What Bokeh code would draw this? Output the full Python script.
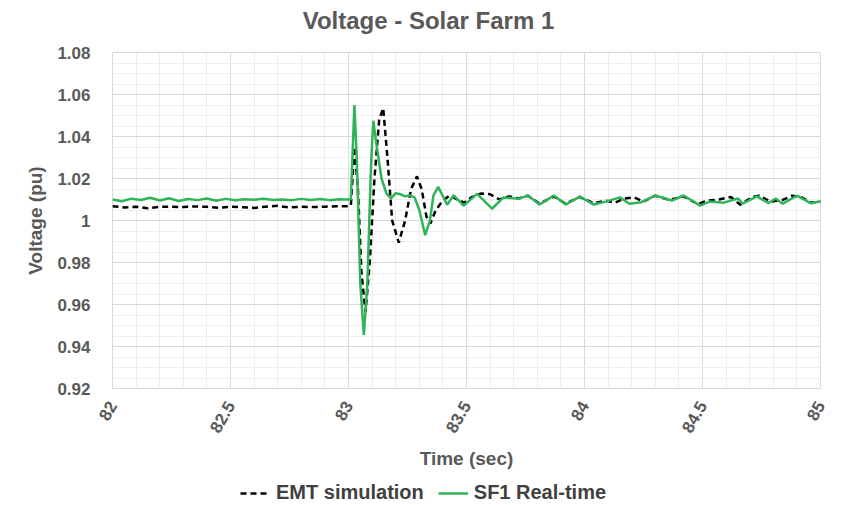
from bokeh.plotting import figure
from bokeh.models import (FixedTicker, CustomJSTickFormatter, Legend, LegendItem,
                          Range1d, Label)
from bokeh.layouts import column
from bokeh.embed import file_html
from bokeh.resources import INLINE
import numpy as np
import math

# ---------------- data ----------------
sf1_t = [82.00, 82.04, 82.08, 82.12, 82.16, 82.20, 82.24, 82.28, 82.32, 82.36,
         82.40, 82.44, 82.48, 82.52, 82.56, 82.60, 82.64, 82.68, 82.72, 82.76,
         82.80, 82.84, 82.88, 82.92, 82.96, 83.00, 83.01, 83.02, 83.025, 83.035,
         83.05, 83.065, 83.08, 83.095, 83.105, 83.12, 83.14, 83.16, 83.18, 83.20,
         83.22, 83.24, 83.26, 83.28, 83.30, 83.325, 83.345, 83.36, 83.38, 83.418,
         83.446, 83.488, 83.545, 83.608, 83.657, 83.72, 83.76, 83.81, 83.87, 83.92,
         83.98, 84.04, 84.09, 84.15, 84.19, 84.24, 84.30, 84.37, 84.42, 84.49,
         84.53, 84.59, 84.65, 84.67, 84.73, 84.78, 84.81, 84.84, 84.90, 84.96,
         85.00]
sf1_v = [1.0100, 1.0092, 1.0104, 1.0098, 1.0108, 1.0095, 1.0106, 1.0093, 1.0102, 1.0097,
         1.0105, 1.0094, 1.0103, 1.0096, 1.0101, 1.0099, 1.0104, 1.0098, 1.0100, 1.0097,
         1.0103, 1.0098, 1.0102, 1.0097, 1.0101, 1.0100, 1.0100, 1.0400, 1.0550, 1.0300,
         0.9700, 0.9455, 0.9700, 1.0250, 1.0475, 1.0350, 1.0200, 1.0130, 1.0105, 1.0130,
         1.0125, 1.0115, 1.0120, 1.0110, 1.0050, 0.9930, 1.0000, 1.0120, 1.0160, 1.0075,
         1.0120, 1.0071, 1.0127, 1.0056, 1.0110, 1.0103, 1.0119, 1.0076, 1.0119, 1.0076,
         1.0114, 1.0076, 1.0090, 1.0110, 1.0080, 1.0087, 1.0119, 1.0095, 1.0119, 1.0071,
         1.0090, 1.0085, 1.0105, 1.0080, 1.0115, 1.0083, 1.0105, 1.0080, 1.0118, 1.0082,
         1.0092]

emt_t = [82.00, 82.05, 82.10, 82.15, 82.20, 82.25, 82.30, 82.35, 82.40, 82.45,
         82.50, 82.55, 82.60, 82.65, 82.70, 82.75, 82.80, 82.85, 82.90, 82.95,
         83.00, 83.01, 83.025, 83.04, 83.055, 83.072, 83.09, 83.11, 83.13, 83.147,
         83.165, 83.185, 83.213, 83.24, 83.265, 83.29, 83.31, 83.33, 83.347, 83.37,
         83.40, 83.43, 83.46, 83.49, 83.52, 83.56, 83.60, 83.64, 83.68, 83.72,
         83.76, 83.81, 83.87, 83.92, 83.98, 84.04, 84.09, 84.13, 84.17, 84.21,
         84.25, 84.30, 84.36, 84.42, 84.48, 84.52, 84.57, 84.62, 84.66, 84.71,
         84.74, 84.79, 84.84, 84.88, 84.92, 84.96, 85.00]
emt_v = [1.0068, 1.0062, 1.0066, 1.0058, 1.0065, 1.0066, 1.0064, 1.0067, 1.0065, 1.0060,
         1.0066, 1.0063, 1.0060, 1.0066, 1.0070, 1.0062, 1.0065, 1.0064, 1.0066, 1.0068,
         1.0068, 1.0070, 1.0350, 1.0150, 0.9750, 0.9565, 0.9800, 1.0200, 1.0480, 1.0535,
         1.0300, 1.0000, 0.9895, 1.0000, 1.0150, 1.0210, 1.0150, 1.0020, 0.9985, 1.0050,
         1.0095, 1.0120, 1.0100, 1.0085, 1.0110, 1.0128, 1.0125, 1.0100, 1.0115, 1.0105,
         1.0118, 1.0080, 1.0115, 1.0080, 1.0112, 1.0082, 1.0095, 1.0085, 1.0105, 1.0110,
         1.0090, 1.0118, 1.0098, 1.0115, 1.0078, 1.0095, 1.0100, 1.0112, 1.0075, 1.0112,
         1.0118, 1.0090, 1.0098, 1.0118, 1.0110, 1.0085, 1.0090]

x_ticks = [82, 82.5, 83, 83.5, 84, 84.5, 85]
y_ticks = [0.92, 0.94, 0.96, 0.98, 1.0, 1.02, 1.04, 1.06, 1.08]
title_text = "Voltage - Solar Farm 1"
series_names = ["EMT simulation", "SF1 Real-time"]

TXT = "#595959"
FONT = "Liberation Sans"
GREEN = "#2fb457"


def bare(fig):
    fig.axis.visible = False
    fig.grid.visible = False
    fig.outline_line_color = None
    fig.min_border = 0


# ---------------- title strip (frame aligned with main chart: 112..820 px) ----------------
tf = figure(width=846, height=40, output_backend="svg", toolbar_location=None,
            x_range=Range1d(112, 820), y_range=Range1d(0, 40))
bare(tf)
tf.add_layout(Label(x=428, y=20, text=title_text, text_align="center",
                    text_baseline="middle", text_font=FONT, text_font_size="24px",
                    text_font_style="bold", text_color=TXT))

# ---------------- main chart ----------------
p = figure(width=846, height=435, output_backend="svg", toolbar_location=None,
           x_range=Range1d(82, 85), y_range=Range1d(0.92, 1.08),
           min_border_left=112, min_border_right=26, min_border_top=12,
           min_border_bottom=87)
p.outline_line_color = "#d9d9d9"

for ax in (p.xaxis[0], p.yaxis[0]):
    ax.axis_line_color = None
    ax.major_tick_line_color = None
    ax.minor_tick_line_color = None
    ax.major_label_text_font = FONT
    ax.major_label_text_font_size = "17px"
    ax.major_label_text_font_style = "bold"
    ax.major_label_text_color = TXT
    ax.axis_label_text_font = FONT
    ax.axis_label_text_font_size = "19px"
    ax.axis_label_text_font_style = "bold"
    ax.axis_label_text_color = TXT
    ax.formatter = CustomJSTickFormatter(code="return (Math.round(tick*1000)/1000).toString();")

p.xaxis[0].ticker = FixedTicker(ticks=x_ticks,
                                minor_ticks=[round(82 + 0.1 * i, 1) for i in range(31)])
p.yaxis[0].ticker = FixedTicker(ticks=y_ticks,
                                minor_ticks=[round(0.92 + 0.005 * i, 3) for i in range(33)])
p.xaxis[0].major_label_orientation = math.pi / 3
p.xaxis[0].major_label_standoff = 8
p.yaxis[0].major_label_standoff = 16
p.xaxis[0].axis_label = "Time (sec)"
p.yaxis[0].axis_label = "Voltage (pu)"
p.xaxis[0].axis_label_standoff = 8
p.yaxis[0].axis_label_standoff = 8

p.xgrid.grid_line_color = "#d9d9d9"
p.ygrid.grid_line_color = "#d9d9d9"
p.xgrid.minor_grid_line_color = "#eeeeee"
p.ygrid.minor_grid_line_color = "#eeeeee"

p.line(emt_t, emt_v, line_color="black", line_width=2.5, line_dash="6 4")
p.line(sf1_t, sf1_v, line_color=GREEN, line_width=2.5)

# ---------------- legend strip ----------------
lf = figure(width=846, height=30, output_backend="svg", toolbar_location=None,
            x_range=Range1d(112, 820), y_range=Range1d(0, 30))
bare(lf)
nan = np.array([np.nan])
g_emt = lf.line(nan, nan, line_color="black", line_width=2.5, line_dash="6 4")
g_sf1 = lf.line(nan, nan, line_color=GREEN, line_width=2.5)
legend = Legend(items=[LegendItem(label=series_names[0], renderers=[g_emt]),
                       LegendItem(label=series_names[1], renderers=[g_sf1])],
                orientation="horizontal", location=(128, 1))
legend.label_text_font = FONT
legend.label_text_font_size = "20px"
legend.label_text_font_style = "bold"
legend.label_text_color = "#404040"
legend.glyph_width = 30
legend.glyph_height = 18
legend.label_height = 18
legend.label_standoff = 6
legend.spacing = 14
legend.padding = 0
legend.margin = 0
legend.border_line_color = None
legend.background_fill_alpha = 0
lf.add_layout(legend, "center")

layout = column(tf, p, lf, spacing=0)
open("out.html", "w").write(file_html(layout, INLINE))
